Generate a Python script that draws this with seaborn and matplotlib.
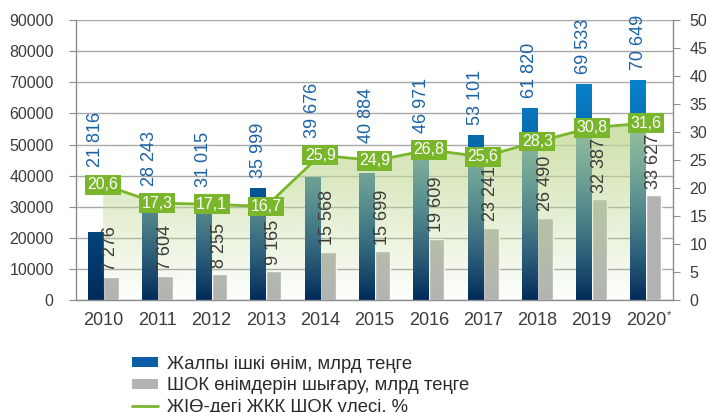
import numpy as np
import pandas as pd
import matplotlib
matplotlib.use("Agg")
import matplotlib.pyplot as plt
from matplotlib.colors import LinearSegmentedColormap, to_rgb
from matplotlib.patches import Patch
from matplotlib.lines import Line2D
import seaborn as sns

# data
years = ["2010", "2011", "2012", "2013", "2014", "2015", "2016", "2017",
         "2018", "2019", "2020"]
gdp = [21816, 28243, 31015, 35999, 39676, 40884, 46971, 53101, 61820, 69533, 70649]
sme_output = [7276, 7604, 8255, 9165, 15568, 15699, 19609, 23241, 26490, 32387, 33627]
sme_share = [20.6, 17.3, 17.1, 16.7, 25.9, 24.9, 26.8, 25.6, 28.3, 30.8, 31.6]
series_names = ["Жалпы ішкі өнім, млрд теңге",
                "ШОК өнімдерін шығару, млрд теңге",
                "ЖІӨ-дегі ЖҚҚ ШОК үлесі, %"]

GREEN = "#7ab62c"
TEXT = "#3c3c3c"
AXIS = "#8c8c8c"

sns.set_style("white")
plt.rcParams["font.family"] = ["Liberation Sans", "DejaVu Sans"]

df = pd.DataFrame({
    "year": years * 2,
    "value": gdp + sme_output,
    "series": [series_names[0]] * len(years) + [series_names[1]] * len(years),
})

fig, ax = plt.subplots(figsize=(7.1, 4.12), dpi=100)
fig.subplots_adjust(left=0.107, right=0.948, top=0.951, bottom=0.272)

sns.barplot(data=df, x="year", y="value", hue="series",
            palette=["#0a5a9c", "#b3b3b3"], width=0.57, gap=0,
            saturation=1, legend=False, ax=ax, zorder=1)

# vertical gradient on the GDP bars (absolute scale, navy -> blue)
blue_cmap = LinearSegmentedColormap.from_list("gdp", ["#002a5a", "#0a84cf"])
grad = np.linspace(0, 1, 256).reshape(-1, 1)
for bar in ax.containers[0]:
    x0, w = bar.get_x(), bar.get_width()
    im = ax.imshow(grad, cmap=blue_cmap, origin="lower", aspect="auto",
                   extent=(x0, x0 + w, 0, 72000), zorder=1)
    im.set_clip_path(bar)
    bar.set_facecolor("none")
    bar.set_edgecolor("none")

ax.set_xlim(-0.5, len(years) - 0.5)
ax.set_ylim(0, 90000)
ax.set_yticks(np.arange(0, 90001, 10000))
ax.set_axisbelow(True)
ax.yaxis.grid(True, color="#a8a8a8", lw=1)
ax.set_xlabel("")
ax.set_ylabel("")

# secondary axis: share line with gradient area
ax2 = ax.twinx()
xs = np.arange(len(years))
area = ax2.fill_between(xs, sme_share, 0, facecolor="none", edgecolor="none")
rgba = np.zeros((256, 1, 4))
rgba[..., :3] = to_rgb("#c0d892")
rgba[:, 0, 3] = 0.8 * np.linspace(0, 1, 256) ** 0.9
ov = ax2.imshow(rgba, origin="lower", aspect="auto",
                extent=(-0.5, len(years) - 0.5, 0, 32), zorder=1)
ov.set_clip_path(area.get_paths()[0], ax2.transData)
ax2.plot(xs, sme_share, color=GREEN, lw=2, zorder=3)
for x, v in zip(xs, sme_share):
    ax2.text(x, v, f"{v:.1f}".replace(".", ","), ha="center", va="center",
             color="white", fontsize=11.5, zorder=5,
             bbox=dict(boxstyle="square,pad=0.15", fc=GREEN, ec="none"))
ax2.set_ylim(0, 50)
ax2.set_yticks(np.arange(0, 51, 5))
ax.set_xlim(-0.5, len(years) - 0.5)

# value labels (rotated)
for bar, val, share in zip(ax.containers[0], gdp, sme_share):
    y = max(val + 3300, share * 1800 + 5600)
    ax2.text(bar.get_x() + bar.get_width() / 2, y, f"{val:,}".replace(",", " "),
             transform=ax.transData, rotation=90, ha="center", va="bottom",
             color="#1b62a6", fontsize=13, zorder=6)
for bar, val in zip(ax.containers[1], sme_output):
    ax2.text(bar.get_x() + bar.get_width() / 2, val + 2100, f"{val:,}".replace(",", " "),
             transform=ax.transData, rotation=90, ha="center", va="bottom",
             color=TEXT, fontsize=13, zorder=6)

# axes styling
for s in ["top", "right"]:
    ax.spines[s].set_visible(False)
for s in ["top", "left", "bottom"]:
    ax2.spines[s].set_visible(False)
for s in [ax.spines["left"], ax.spines["bottom"], ax2.spines["right"]]:
    s.set_color(AXIS)
    s.set_linewidth(1)

ax.set_xticks(xs)
ax.set_xticklabels(years)
ax.set_xticks(np.arange(-0.5, len(years)), minor=True)
ax.tick_params(axis="x", which="major", length=0, pad=9, labelsize=13, labelcolor=TEXT)
ax.tick_params(axis="x", which="minor", length=5, color=AXIS, direction="out")
ax.tick_params(axis="y", length=5, color=AXIS, direction="out", left=True,
               pad=11, labelsize=11.5, labelcolor=TEXT)
ax2.tick_params(axis="y", length=5, color=AXIS, direction="out", right=True,
                pad=7, labelsize=11.5, labelcolor=TEXT)
# small asterisk after the last year (preliminary estimate)
ax.annotate("*", xy=(len(years) - 1, 0), xycoords=("data", "axes fraction"),
            xytext=(15, -7), textcoords="offset points", ha="left", va="top",
            fontsize=8, color=TEXT)

handles = [Patch(facecolor="#0b5ea6", edgecolor="none"),
           Patch(facecolor="#b3b3b3", edgecolor="none"),
           Line2D([0], [0], color=GREEN, lw=2)]
fig.legend(handles, series_names, loc="upper left", bbox_to_anchor=(0.186, 0.137),
           frameon=False, fontsize=13.3, handlelength=1.4, handleheight=0.45,
           handletextpad=0.5, labelspacing=0.26, borderpad=0, borderaxespad=0,
           labelcolor="#2a2a2a")

fig.savefig("out.png", dpi=100)
